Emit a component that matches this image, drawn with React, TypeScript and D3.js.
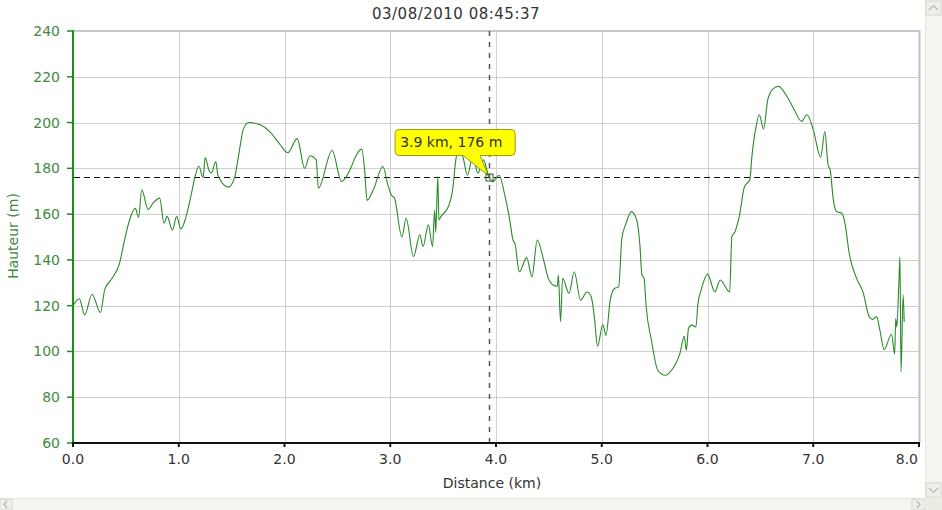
import React from "react";
import * as d3 from "d3";

const title = "03/08/2010 08:45:37";
const xLabel = "Distance (km)";
const yLabel = "Hauteur (m)";
const xTicks = [0, 1, 2, 3, 4, 5, 6, 7, 8];
const yTicks = [60, 80, 100, 120, 140, 160, 180, 200, 220, 240];

const distKm = [
  0.0, 0.06, 0.11, 0.18, 0.26, 0.3, 0.37, 0.44, 0.48, 0.52, 0.59, 0.62, 0.65, 0.71, 0.76, 0.82, 0.86, 0.89, 0.94, 0.98,
  1.02, 1.07, 1.12, 1.15, 1.19, 1.23, 1.25, 1.29, 1.31, 1.35, 1.37, 1.47, 1.53, 1.58, 1.61, 1.66, 1.77, 1.86, 1.96,
  2.03, 2.12, 2.19, 2.24, 2.3, 2.32, 2.45, 2.54, 2.62, 2.67, 2.73, 2.76, 2.78, 2.84, 2.93, 2.98,
  3.01, 3.04, 3.11, 3.15, 3.22, 3.28, 3.31, 3.36, 3.4, 3.42, 3.43, 3.45, 3.46, 3.48, 3.55, 3.59, 3.62, 3.65, 3.69,
  3.73, 3.78, 3.83, 3.88, 3.935, 3.97, 4.03, 4.08, 4.13, 4.16, 4.18, 4.22, 4.29, 4.34, 4.39, 4.45, 4.49, 4.54, 4.58,
  4.59, 4.61, 4.63, 4.69, 4.74, 4.8, 4.86, 4.9, 4.93, 4.96, 5.01, 5.04, 5.08, 5.12, 5.16, 5.19, 5.23, 5.28, 5.33,
  5.36, 5.38, 5.4, 5.42, 5.47, 5.53, 5.6, 5.66, 5.74, 5.78, 5.8, 5.82, 5.85, 5.89, 5.91, 5.94, 6.0, 6.07, 6.12,
  6.21, 6.23, 6.26, 6.3, 6.35, 6.4, 6.42, 6.46, 6.49, 6.53, 6.57, 6.62, 6.67, 6.76, 6.82, 6.89, 6.94, 7.0, 7.07,
  7.11, 7.14, 7.16, 7.19, 7.22, 7.27, 7.3, 7.34, 7.41, 7.47, 7.53, 7.56, 7.6, 7.63, 7.67, 7.74, 7.77, 7.78, 7.79,
  7.81, 7.82, 7.83, 7.85, 7.86,
];

const heightM = [
  120, 123, 116, 125, 117, 127, 132, 138.5, 147, 155, 162.5, 158.5, 170.6, 162, 165, 167, 156, 159, 153, 159,
  153.5, 159, 169, 175.5, 181, 176, 184.7, 178.6, 178, 183, 177, 171.8, 176.4, 189.6, 197, 200, 199, 196, 190.3,
  186.8, 193, 180, 185.5, 183.7, 171.3, 187.8, 174.2, 179.4, 185, 188.4, 178, 166, 170.6, 180.8, 172.3,
  168.4, 167, 150, 158.2, 141.4, 151, 145.8, 155.3, 145.8, 161.8, 152, 176.4, 157.5, 159, 163.3, 170.6, 183.7, 189, 184.5,
  177, 185, 177.9, 183.7, 176, 174.2, 177, 169, 157.5, 148.7, 147, 134.8, 141, 132.6, 148.7, 140, 132.6, 129, 128.5,
  133.4, 113, 132, 125.4, 134.8, 122.4, 126, 123.9, 115.1, 102.3, 111.8, 107, 122.4, 127.5, 128.2, 149.4, 156, 161.1, 157.5,
  147, 133.4, 132, 119.5, 104.9, 91.8, 89.6, 91.8, 99.3, 106.6, 100.5, 110, 111.5, 110.7, 121, 126.8, 133.8, 126, 131.2,
  126, 150.1, 152.3, 158.9, 172, 175, 185.2, 198.3, 203.4, 197.2, 210, 214.7, 215.8, 210.7, 205.6, 200.5, 203.4, 196.9, 184.9,
  196.1, 181.5, 179.3, 166.2, 161.1, 160.4, 156, 142.9, 131.9, 126, 115.1, 114, 115.1, 109.3, 100.8, 107.5, 98.8, 114.4, 110.7,
  130.4, 141.4, 91, 124.6, 112.9,
];

const cursorKm = 3.935;
const cursorM = 176;
const tooltipText = "3.9 km, 176 m";

const W = 942;
const H = 510;
const FONT = "'DejaVu Sans', Verdana, sans-serif";
const GREEN = "#2a8a2a";
const LABEL_GREEN = "#3f8a3f";

export default function App() {
  const x = d3.scaleLinear().domain([0, 8]).range([73, 919]);
  const y = d3.scaleLinear().domain([60, 240]).range([443, 31]);
  const data = distKm.map((d, i) => [d, heightM[i]] as [number, number]);
  const line = d3
    .line<[number, number]>()
    .x((d) => x(d[0]))
    .y((d) => y(d[1]))
    .curve(d3.curveMonotoneX);

  const cx = x(cursorKm);
  const cy = y(cursorM);
  const bx = cx - 94;
  const by = cy - 48;
  const bw = 120;
  const bh = 26;
  const r = 4;
  const tipPath =
    `M${bx + r},${by} H${bx + bw - r} Q${bx + bw},${by} ${bx + bw},${by + r} V${by + bh - r} ` +
    `Q${bx + bw},${by + bh} ${bx + bw - r},${by + bh} H${cx - 9} L${cx - 1},${cy - 2} L${cx - 26},${by + bh} ` +
    `H${bx + r} Q${bx},${by + bh} ${bx},${by + bh - r} V${by + r} Q${bx},${by} ${bx + r},${by} Z`;

  const lastTick = xTicks[xTicks.length - 1];

  return (
    <svg
      width={W}
      height={H}
      style={{ position: "absolute", left: 0, top: 0, background: "#fff" }}
      fontFamily={FONT}
    >
      <rect x={0} y={0} width={W} height={H} fill="#fff" />
      {/* grid */}
      {yTicks
        .filter((t) => t > 60 && t < 240)
        .map((t) => (
          <line key={"gy" + t} x1={73} x2={919} y1={Math.round(y(t)) + 0.5} y2={Math.round(y(t)) + 0.5} stroke="#cfcfcf" />
        ))}
      {xTicks
        .filter((t) => t > 0 && t < 8)
        .map((t) => (
          <line key={"gx" + t} y1={31} y2={443} x1={Math.round(x(t)) + 0.5} x2={Math.round(x(t)) + 0.5} stroke="#cfcfcf" />
        ))}
      {/* frame top / right */}
      <line x1={73} x2={920} y1={31} y2={31} stroke="#c8c8c8" strokeWidth={2} />
      <line x1={919.5} x2={919.5} y1={30} y2={443} stroke="#c0c0c0" strokeWidth={2} />

      {/* horizontal crosshair */}
      <line x1={74} x2={919} y1={Math.round(cy) + 0.5} y2={Math.round(cy) + 0.5} stroke="#111" strokeDasharray="6,4" />

      {/* data line */}
      <path d={line(data) || ""} fill="none" stroke={GREEN} strokeWidth={1.1} />

      {/* vertical crosshair */}
      <line x1={Math.round(cx) + 0.5} x2={Math.round(cx) + 0.5} y1={31} y2={443} stroke="#555" strokeWidth={1.5} strokeDasharray="5,6" />

      {/* axes */}
      <line x1={73} x2={73} y1={30} y2={444} stroke="#1e8c1e" strokeWidth={2} />
      {yTicks.map((t) => (
        <g key={"yt" + t}>
          <line x1={67} x2={73} y1={y(t)} y2={y(t)} stroke="#1e8c1e" strokeWidth={1.5} />
          <text x={60} y={y(t)} dy="0.36em" textAnchor="end" fontSize={14} fill={LABEL_GREEN}>
            {t}
          </text>
        </g>
      ))}
      <line x1={72} x2={920} y1={443} y2={443} stroke="#111" strokeWidth={2} />
      {xTicks.map((t) => (
        <g key={"xt" + t}>
          <line x1={x(t)} x2={x(t)} y1={443} y2={447} stroke="#111" strokeWidth={2} />
          <text
            x={t === lastTick ? x(t) - 1 : x(t)}
            y={464}
            textAnchor={t === lastTick ? "end" : "middle"}
            fontSize={14}
            fill="#333"
          >
            {t.toFixed(1)}
          </text>
        </g>
      ))}
      <text x={492} y={488} textAnchor="middle" fontSize={14} fill="#333">
        {xLabel}
      </text>
      <text transform="translate(18,236) rotate(-90)" textAnchor="middle" fontSize={14} fill={LABEL_GREEN}>
        {yLabel}
      </text>
      <text x={456} y={19} textAnchor="middle" fontSize={15} letterSpacing={0.5} fill="#333">
        {title}
      </text>

      {/* tooltip */}
      <path d={tipPath} fill="#ffff00" stroke="#9a9a10" strokeWidth={1} />
      <text x={bx + 5} y={by + 18} fontSize={14} fill="#333">
        {tooltipText}
      </text>
      <rect x={Math.round(cx) - 3} y={Math.round(cy) - 3} width={7} height={7} fill="none" stroke="#2f5a2f" strokeWidth={1} />

      {/* scrollbars */}
      <rect x={925} y={0} width={17} height={498} fill="#f4f4f0" />
      <line x1={925.5} x2={925.5} y1={0} y2={498} stroke="#e6e6e0" />
      <rect x={926} y={1} width={15} height={14} fill="#eeeeea" stroke="#d8d8d2" />
      <path d="M929,10 L933.5,5.5 L938,10" fill="none" stroke="#b8b8b0" strokeWidth={1.2} />
      <rect x={926} y={483} width={15} height={14} fill="#eeeeea" stroke="#d8d8d2" />
      <path d="M929,488 L933.5,492.5 L938,488" fill="none" stroke="#b8b8b0" strokeWidth={1.2} />
      <rect x={0} y={498} width={942} height={12} fill="#f4f4f0" />
      <line x1={0} x2={942} y1={498.5} y2={498.5} stroke="#e6e6e0" />
      <rect x={0} y={499} width={12} height={11} fill="#eeeeea" stroke="#d8d8d2" />
      <path d="M7,501 L4,504.5 L7,508" fill="none" stroke="#b8b8b0" strokeWidth={1.2} />
      <rect x={912} y={499} width={13} height={11} fill="#eeeeea" stroke="#d8d8d2" />
      <path d="M917,501 L920,504.5 L917,508" fill="none" stroke="#b8b8b0" strokeWidth={1.2} />
      <rect x={925} y={498} width={17} height={12} fill="#ecebe4" />
    </svg>
  );
}
